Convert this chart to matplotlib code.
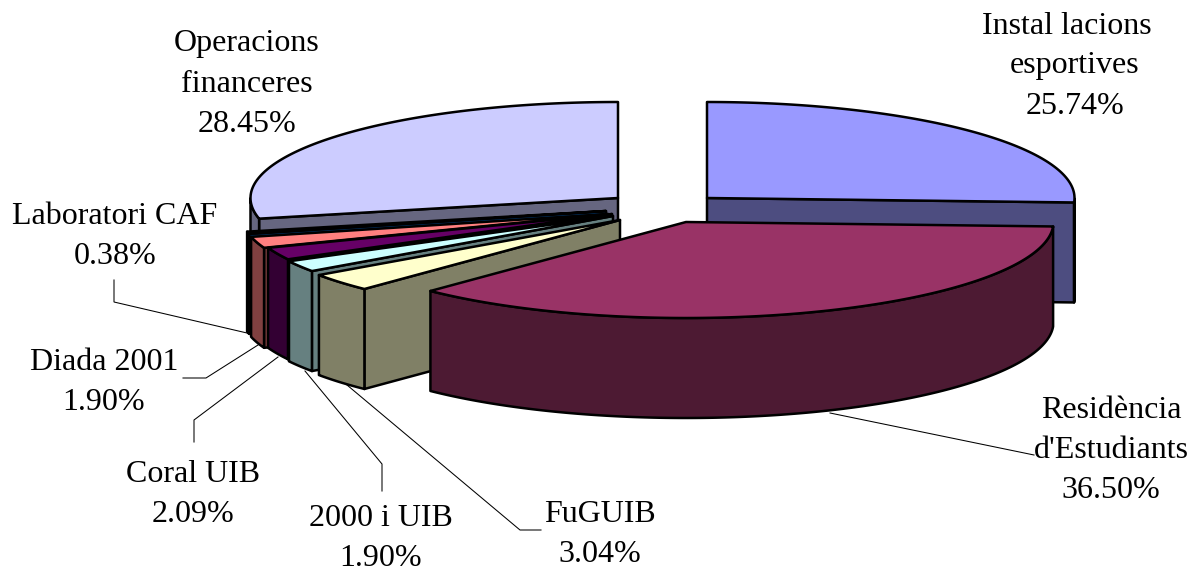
import numpy as np
import matplotlib
matplotlib.use("Agg")
import matplotlib.pyplot as plt
from matplotlib.patches import Polygon

categories = ["Instal lacions  \nesportives", "Residència\nd'Estudiants", "FuGUIB", "2000 i UIB",
              "Coral UIB", "Diada 2001", "Laboratori CAF", "Operacions\nfinanceres"]
values = [25.74, 36.50, 3.04, 1.90, 2.09, 1.90, 0.38, 28.45]
top_colors = ["#9999FF", "#993366", "#FFFFCC", "#CCFFFF", "#660066", "#FF8080", "#0066CC", "#CCCCFF"]
wall_colors = ["#4D4D80", "#4D1A33", "#808066", "#668080", "#330033", "#804040", "#003366", "#666680"]

# exploded slice centres (layout, pixels)
centres = [(707, 198), (686, 222), (620, 220), (613, 216), (612, 214), (608, 214), (606, 211), (618, 198)]
RX, RY, DEPTH = 367.5, 96, 100
draw_order = [7, 0, 6, 5, 4, 3, 2, 1]
label_pos = [(1075, 66), (1111, 450), (600, 534), (381, 538), (193, 495), (104, 382), (115, 236), (247, 84)]
leaders = [
    [(114, 280), (114, 302), (247, 333)],
    [(183, 378), (206, 378), (258, 345)],
    [(194, 442), (194, 420), (278, 357)],
    [(305, 371), (382, 464), (382, 491)],
    [(347, 385), (520, 530), (541, 530)],
    [(830, 413), (1034, 455)],
]

fig = plt.figure(figsize=(11.97, 5.71), dpi=100)
ax = fig.add_axes([0, 0, 1, 1])
ax.set_xlim(0, 1197)
ax.set_ylim(571, 0)
ax.axis("off")

LW = 1.8
edges = 90 - np.concatenate([[0], np.cumsum(values)]) * 3.6


def pt(c, deg, dz=0):
    t = np.radians(deg)
    return np.column_stack([c[0] + RX * np.cos(t), c[1] - RY * np.sin(t) + dz])


def poly(points, color, z):
    ax.add_patch(Polygon(points, closed=True, facecolor=color, edgecolor="black",
                         linewidth=LW, joinstyle="round", zorder=z))


z = 2
for i in draw_order:
    c = centres[i]
    a0, a1 = edges[i], edges[i + 1]  # clockwise, a0 > a1
    theta = np.linspace(a0, a1, 200)
    apex = np.array([c])
    for edge, visible in ((a0, np.cos(np.radians(a0)) < -1e-6), (a1, np.cos(np.radians(a1)) > 1e-6)):
        if visible:
            p = pt(c, np.array([edge]))
            poly(np.vstack([apex, p, p + [0, DEPTH], apex + [0, DEPTH]]), wall_colors[i], z)
            z += 1
    front = theta[np.sin(np.radians(theta)) <= 0]
    if len(front) > 1:
        poly(np.vstack([pt(c, front), pt(c, front[::-1], DEPTH)]), wall_colors[i], z)
        z += 1
    poly(np.vstack([apex, pt(c, theta)]), top_colors[i], z)
    z += 1

for path in leaders:
    xs, ys = zip(*path)
    ax.plot(xs, ys, color="black", lw=0.75, zorder=1 if path[0][0] == 830 else 50, solid_joinstyle="miter")

for name, v, (x, y) in zip(categories, values, label_pos):
    ax.text(x, y, f"{name}\n{v:.2f}%", ha="center", va="center", ma="center",
            family="Liberation Serif", fontsize=23, linespacing=1.5, color="black", zorder=60)

fig.savefig("out.png", dpi=100)
